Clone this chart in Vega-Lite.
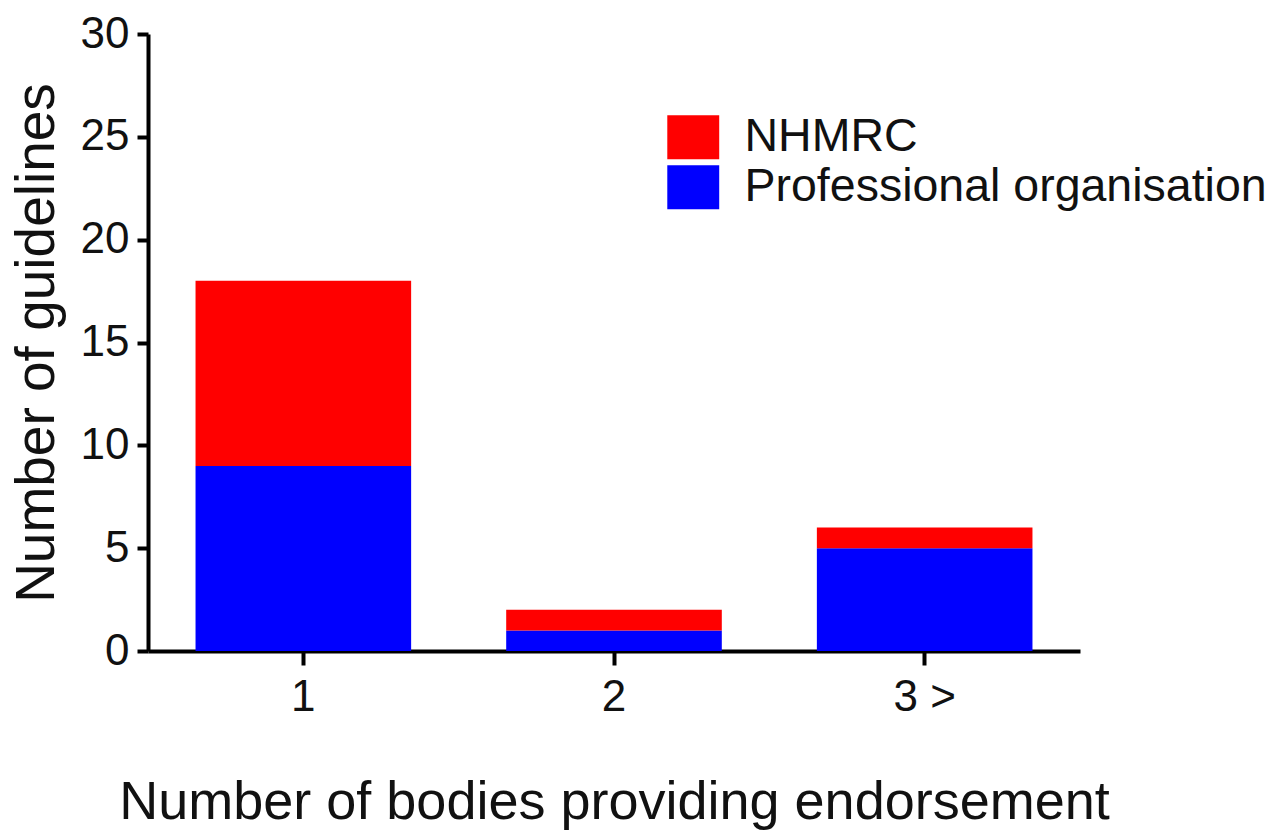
{
  "$schema": "https://vega.github.io/schema/vega-lite/v6.json",
  "autosize": "none",
  "padding": {"left": 148, "top": 34, "right": 196, "bottom": 180},
  "width": 932,
  "height": 617,
  "background": "white",
  "config": {
    "font": "Liberation Sans",
    "view": {"stroke": null},
    "axis": {"grid": false, "labelFont": "Liberation Sans", "titleFont": "Liberation Sans", "labelColor": "#111", "titleColor": "#111", "domainColor": "black", "tickColor": "black", "titleFontWeight": "normal"}
  },
  "data": {
    "values": [
      {"bodies": "1", "series": "Professional organisation", "count": 9},
      {"bodies": "1", "series": "NHMRC", "count": 9},
      {"bodies": "2", "series": "Professional organisation", "count": 1},
      {"bodies": "2", "series": "NHMRC", "count": 1},
      {"bodies": "3 >", "series": "Professional organisation", "count": 5},
      {"bodies": "3 >", "series": "NHMRC", "count": 1}
    ]
  },
  "mark": {"type": "bar"},
  "encoding": {
    "x": {
      "field": "bodies", "type": "nominal", "sort": null,
      "scale": {"paddingInner": 0.306, "paddingOuter": 0.153},
      "axis": {
        "title": "Number of bodies providing endorsement",
        "labelAngle": 0, "labelFontSize": 44, "labelPadding": 10,
        "tickSize": 14, "tickWidth": 4, "domainWidth": 4,
        "titleFontSize": 54, "titlePadding": 56
      }
    },
    "y": {
      "field": "count", "type": "quantitative", "aggregate": "sum", "stack": "zero",
      "scale": {"domain": [0, 30], "nice": false},
      "axis": {
        "title": "Number of guidelines",
        "values": [0, 5, 10, 15, 20, 25, 30],
        "labelFontSize": 44, "labelPadding": 8,
        "tickSize": 11, "tickWidth": 4, "domainWidth": 4,
        "titleFontSize": 55, "titlePadding": 15
      }
    },
    "color": {
      "field": "series", "type": "nominal",
      "scale": {"domain": ["NHMRC", "Professional organisation"], "range": ["#ff0000", "#0000ff"]},
      "legend": {
        "title": null, "orient": "none", "legendX": 522, "legendY": 80,
        "padding": 0,
        "symbolType": "M-1.18,-1H1.18V1H-1.18Z", "symbolSize": 1936,
        "symbolStrokeWidth": 0, "symbolOpacity": 1,
        "labelFontSize": 46.5, "labelColor": "#111", "labelOffset": 28, "labelLimit": 0,
        "rowPadding": 3, "labelFont": "Liberation Sans"
      }
    },
    "order": {"field": "series", "sort": "descending"}
  }
}
